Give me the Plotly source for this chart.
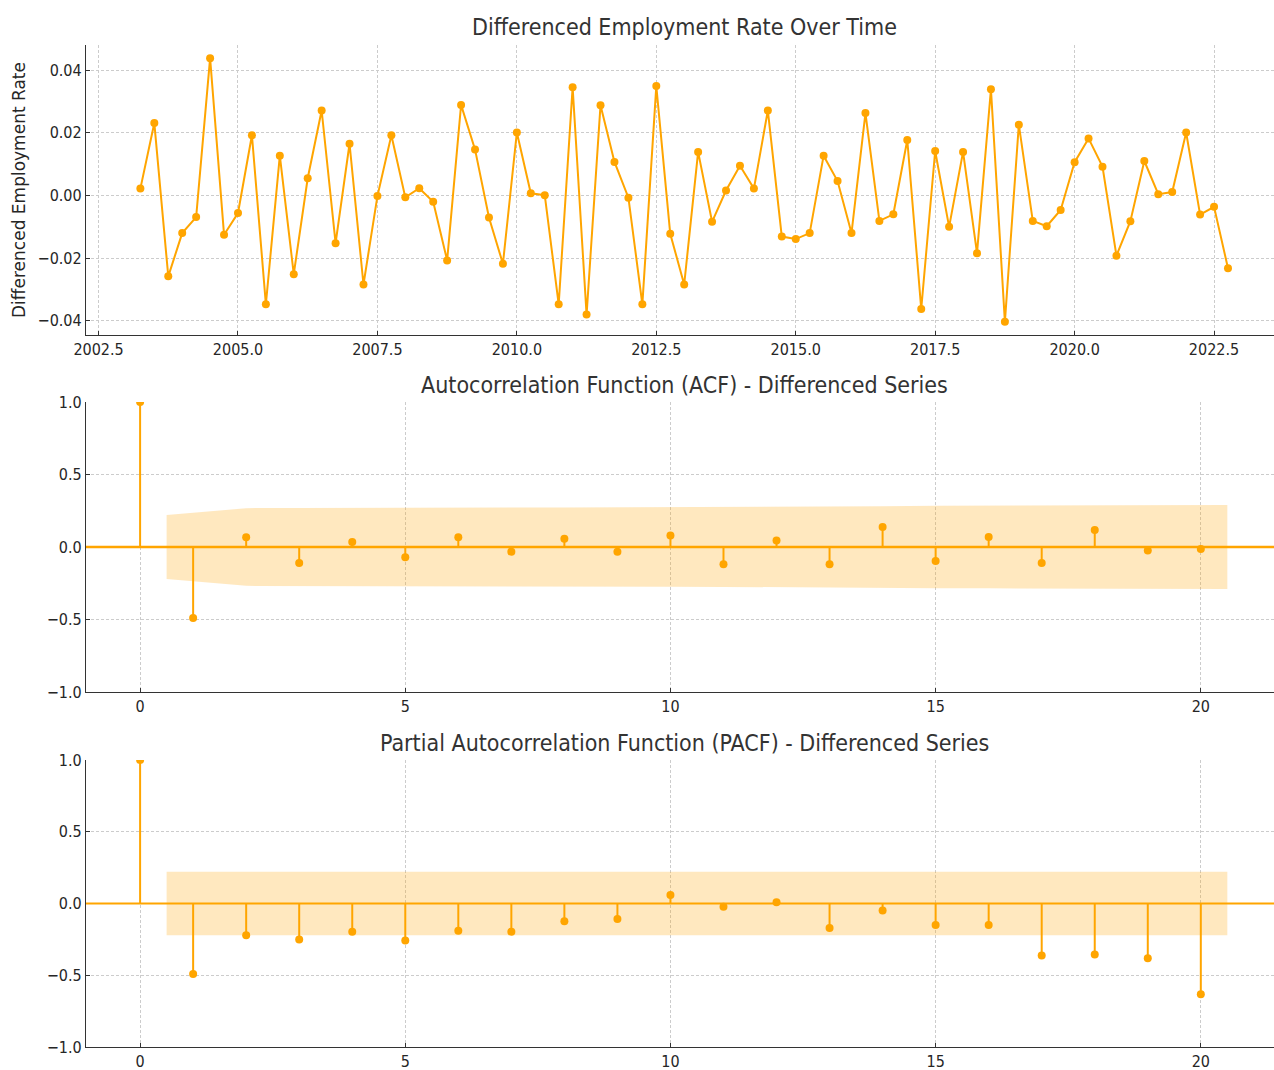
import plotly.graph_objects as go

# Quarterly first difference of the employment rate, 2003 Q2 .. 2022 Q4
start_year = 2003.25
diff_rate = [
    0.0022, 0.0231, -0.0258, -0.0120, -0.0069, 0.0438, -0.0125, -0.0056, 0.0192, -0.0347,
    0.0127, -0.0251, 0.0055, 0.0271, -0.0152, 0.0165, -0.0284, -0.0002, 0.0192, -0.0006,
    0.0023, -0.0020, -0.0207, 0.0289, 0.0147, -0.0070, -0.0218, 0.0201, 0.0007, 0.0001,
    -0.0347, 0.0345, -0.0380, 0.0288, 0.0107, -0.0007, -0.0347, 0.0349, -0.0122, -0.0284,
    0.0139, -0.0084, 0.0016, 0.0095, 0.0022, 0.0271, -0.0131, -0.0139, -0.0120, 0.0127,
    0.0046, -0.0120, 0.0263, -0.0081, -0.0060, 0.0177, -0.0362, 0.0142, -0.0100, 0.0139,
    -0.0184, 0.0339, -0.0403, 0.0226, -0.0081, -0.0098, -0.0046, 0.0106, 0.0182, 0.0092,
    -0.0192, -0.0082, 0.0110, 0.0004, 0.0011, 0.0201, -0.0061, -0.0036, -0.0232,
]
quarters = [start_year + 0.25 * i for i in range(len(diff_rate))]

# Correlogram values for lags 0..20
lags = list(range(21))
acf_vals = [1.0, -0.489, 0.067, -0.110, 0.034, -0.071, 0.067, -0.032, 0.057, -0.032,
            0.080, -0.119, 0.044, -0.119, 0.138, -0.096, 0.069, -0.110, 0.117, -0.025, -0.014]
pacf_vals = [1.0, -0.491, -0.222, -0.250, -0.197, -0.257, -0.190, -0.197, -0.124, -0.108,
             0.060, -0.023, 0.009, -0.170, -0.048, -0.149, -0.149, -0.362, -0.356, -0.381, -0.633]

# 95% confidence half-widths for lags 1..20
acf_band = [0.2205, 0.2681, 0.2689, 0.2711, 0.2713, 0.2722, 0.2730, 0.2732, 0.2738, 0.2740,
            0.2751, 0.2776, 0.2779, 0.2804, 0.2837, 0.2852, 0.2861, 0.2881, 0.2904, 0.2905]
pacf_band = [0.2205] * 20

ORANGE = "#ffa500"
BAND = "rgba(255,165,0,0.25)"
FONT = "DejaVu Sans Condensed, Liberation Sans Narrow, DejaVu Sans, sans-serif"
W, H = 1274, 1070
L = 86

fig = go.Figure()

# --- top: differenced series ---
fig.add_trace(go.Scatter(
    x=quarters, y=diff_rate, mode="lines+markers",
    line=dict(color=ORANGE, width=2), marker=dict(color=ORANGE, size=8),
    xaxis="x", yaxis="y", showlegend=False,
))


def add_correlogram(vals, band, xa, ya):
    # shaded confidence region, stretched half a lag at both ends
    bx = [float(l) for l in lags[1:]]
    bx[0] -= 0.5
    bx[-1] += 0.5
    fig.add_trace(go.Scatter(
        x=bx + bx[::-1], y=band + [-b for b in band][::-1],
        fill="toself", fillcolor=BAND, line=dict(width=0), mode="lines",
        xaxis=xa, yaxis=ya, showlegend=False, hoverinfo="skip",
    ))
    sx, sy = [], []
    for l, v in zip(lags, vals):
        sx += [l, l, None]
        sy += [0, v, None]
    fig.add_trace(go.Scatter(
        x=sx, y=sy, mode="lines", line=dict(color=ORANGE, width=2),
        xaxis=xa, yaxis=ya, showlegend=False, hoverinfo="skip",
    ))
    fig.add_trace(go.Scatter(
        x=lags, y=vals, mode="markers", marker=dict(color=ORANGE, size=8),
        xaxis=xa, yaxis=ya, showlegend=False,
    ))


add_correlogram(acf_vals, acf_band, "x2", "y2")
add_correlogram(pacf_vals, pacf_band, "x3", "y3")

# zero reference lines of the correlograms
for xa, ya, w in (("x2", "y2", 2.5), ("x3", "y3", 1.8)):
    fig.add_shape(type="line", xref=f"{xa} domain", yref=ya, x0=0, x1=1, y0=0, y1=0,
                  line=dict(color=ORANGE, width=w), layer="above")


def ydom(top_px, bottom_px):
    return [1 - bottom_px / H, 1 - top_px / H]


axis_common = dict(
    showline=True, linecolor="#333333", linewidth=1.2, mirror=False,
    ticks="inside", ticklen=4, tickcolor="#333333", tickwidth=1,
    showgrid=True, gridcolor="#cccccc", griddash="3px,2px", gridwidth=0.8,
    zeroline=False, automargin=False,
    tickfont=dict(family=FONT, size=16, color="#262626"),
)

fig.update_layout(
    width=W, height=H,
    margin=dict(l=L, r=0, t=0, b=0, autoexpand=False),
    paper_bgcolor="white", plot_bgcolor="white",
    font=dict(family=FONT, color="#333333"),
    xaxis=dict(domain=[0, 1], anchor="y", range=[2002.275, 2023.575],
               tick0=2002.5, dtick=2.5, tickformat=".1f", **axis_common),
    yaxis=dict(domain=ydom(45, 335), anchor="x", range=[-0.0445, 0.048],
               tickvals=[-0.04, -0.02, 0.0, 0.02, 0.04], tickformat=".2f", **axis_common),
    xaxis2=dict(domain=[0, 1], anchor="y2", range=[-1.02, 21.38],
                tickvals=[0, 5, 10, 15, 20], **axis_common),
    yaxis2=dict(domain=ydom(402, 692), anchor="x2", range=[-1, 1],
                tickvals=[-1, -0.5, 0, 0.5, 1], tickformat=".1f", **axis_common),
    xaxis3=dict(domain=[0, 1], anchor="y3", range=[-1.02, 21.38],
                tickvals=[0, 5, 10, 15, 20], **axis_common),
    yaxis3=dict(domain=ydom(760, 1047), anchor="x3", range=[-1, 1],
                tickvals=[-1, -0.5, 0, 0.5, 1], tickformat=".1f", **axis_common),
)

plot_w = W - L
cx = (684 - L) / plot_w
titles = [
    ("Differenced Employment Rate Over Time", 27),
    ("Autocorrelation Function (ACF) - Differenced Series", 385),
    ("Partial Autocorrelation Function (PACF) - Differenced Series", 743),
]
for text, ypx in titles:
    fig.add_annotation(text=text, xref="paper", yref="paper", x=cx, y=1 - ypx / H,
                       xanchor="center", yanchor="middle", showarrow=False,
                       font=dict(family=FONT, size=23, color="#333333"))

fig.add_annotation(text="Differenced Employment Rate", xref="paper", yref="paper",
                   x=(19 - L) / plot_w, y=1 - 190 / H, textangle=-90,
                   xanchor="center", yanchor="middle", showarrow=False,
                   font=dict(family="DejaVu Sans, sans-serif", size=17, color="#262626"))

fig.write_html("out.html")
